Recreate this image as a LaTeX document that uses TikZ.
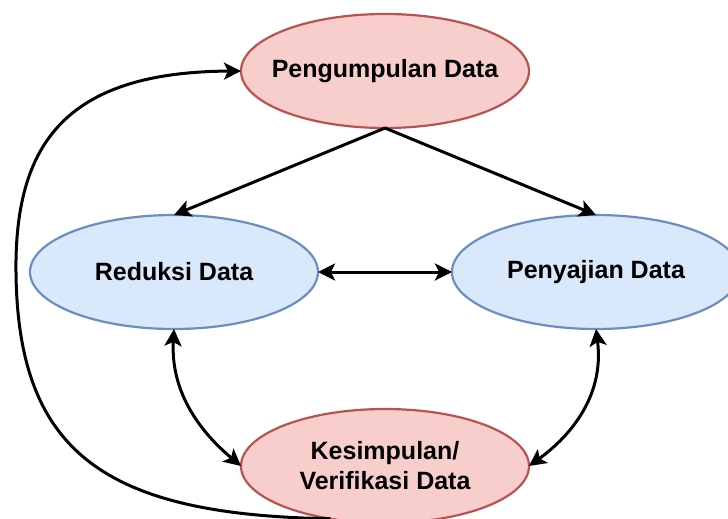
\documentclass[tikz,border=0pt]{standalone}
\usepackage{fontspec}
\setmainfont{Liberation Sans}
\usetikzlibrary{shapes.geometric,arrows.meta}
\definecolor{redfill}{HTML}{F8CECC}
\definecolor{redline}{HTML}{B85450}
\definecolor{bluefill}{HTML}{DAE8FC}
\definecolor{blueline}{HTML}{6C8EBF}
\tikzset{
  stage/.style={ellipse, line width=2.2pt, minimum width=288pt, minimum height=114pt,
    inner sep=-25pt, outer sep=0pt, align=center,
    font=\fontsize{25}{30}\selectfont\bfseries},
  redstage/.style={stage, draw=redline, fill=redfill},
  bluestage/.style={stage, draw=blueline, fill=bluefill},
  flow/.style={line width=3pt, -{Stealth[length=17pt,width=17pt,inset=4pt]}},
  twoway/.style={line width=3pt, {Stealth[length=17pt,width=17pt,inset=4pt]}-{Stealth[length=17pt,width=17pt,inset=4pt]}}
}
\begin{document}
\begin{tikzpicture}[x=1pt,y=-1pt]
  \useasboundingbox (0,0) rectangle (728,519);
  \clip (0,0) rectangle (728,519);
  \fill[white] (0,0) rectangle (728,519);

  % the four stages
  \node[redstage]  (peng) at (385,71)  {Pengumpulan Data};
  \node[bluestage] (red)  at (174,272) {Reduksi Data};
  \node[bluestage] (pen)  at (596,272) {Penyajian Data};
  \node[redstage]  (kes)  at (385,466) {Kesimpulan/\\Verifikasi Data};

  % data collection feeds reduction and display
  \draw[flow] (peng.south) -- (red.north);
  \draw[flow] (peng.south) -- (pen.north);

  % reduction and display exchange
  \draw[twoway] (red.east) -- (pen.west);

  % both feed the conclusion and back
  \draw[twoway] (red.south) .. controls (170,400) and (210,440) .. (kes.west);
  \draw[twoway] (pen.south) .. controls (605,400) and (565,440) .. (kes.east);

  % loop from conclusion back to collection
  \draw[flow] (kes.224) .. controls (100,515) and (14,450) .. (16,260)
              .. controls (18,140) and (70,72) .. (peng.west);
\end{tikzpicture}
\end{document}
